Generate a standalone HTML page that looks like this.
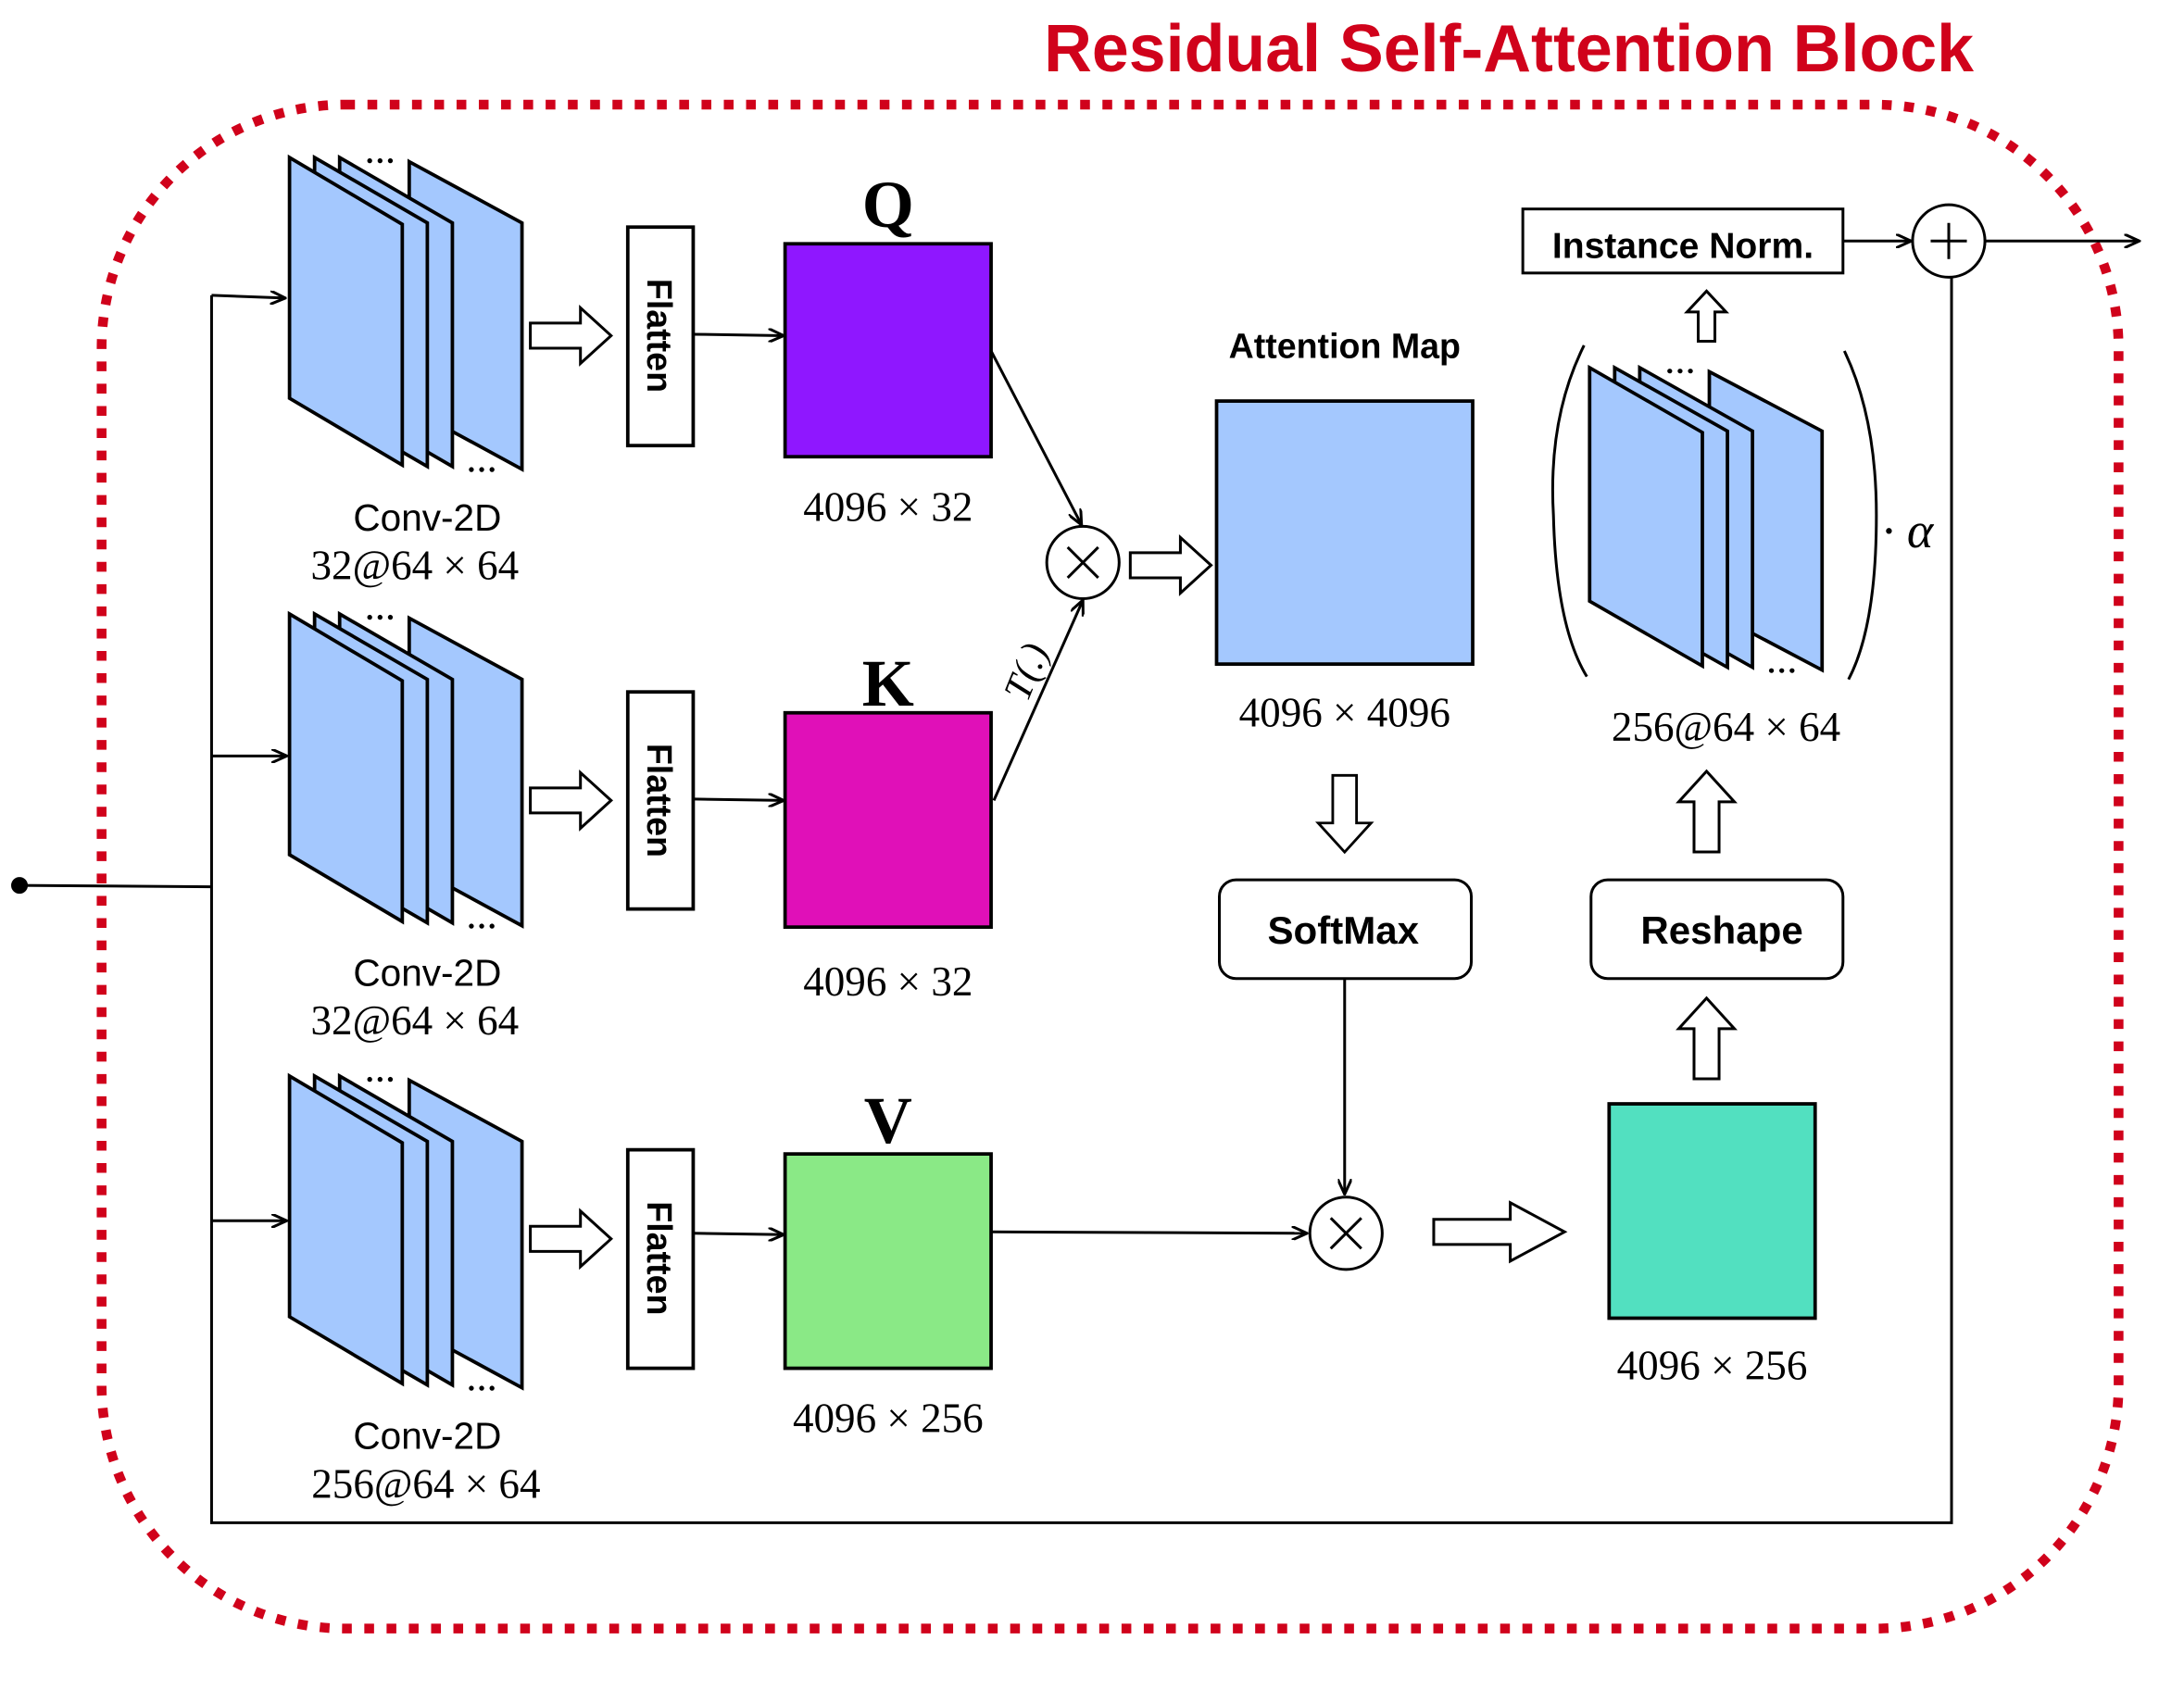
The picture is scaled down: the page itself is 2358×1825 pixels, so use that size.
<!DOCTYPE html>
<html><head><meta charset="utf-8"><style>html,body{margin:0;padding:0;background:#fff}svg{display:block}</style></head><body>
<svg width="2358" height="1825" viewBox="0 0 1569 1214" xmlns="http://www.w3.org/2000/svg">
<defs>
<marker id="a" markerWidth="12" markerHeight="10" refX="11" refY="5" orient="auto" markerUnits="userSpaceOnUse"><path d="M0,0 L11,5 L0,10" fill="none" stroke="#000" stroke-width="2"/></marker>
<g id="stack">
<polygon points="86,3 167,47 167,224 86,180" fill="#a4c8fe" stroke="#000" stroke-width="2.5"/>
<polygon points="36,0 117,47 117,222 36,175" fill="#a4c8fe" stroke="#000" stroke-width="2.5"/>
<polygon points="18,0 99,47 99,222 18,175" fill="#a4c8fe" stroke="#000" stroke-width="2.5"/>
<polygon points="0,0 81,48 81,221 0,173" fill="#a4c8fe" stroke="#000" stroke-width="2.5"/>
<text x="54" y="4" font-family="Liberation Serif,serif" font-size="22" font-weight="bold">…</text>
<text x="127" y="226" font-family="Liberation Serif,serif" font-size="22" font-weight="bold">…</text>
</g>
<path id="harr" d="M0,-9 L36,-9 L36,-20 L58,0 L36,20 L36,9 L0,9 Z" fill="#fff" stroke="#000" stroke-width="2"/>
</defs>
<rect x="73" y="75" width="1449" height="1095" rx="175" fill="none" stroke="#d0021b" stroke-width="7" stroke-dasharray="7 9"/>
<text x="1418" y="51" text-anchor="end" font-family="Liberation Sans,sans-serif" font-size="48" font-weight="bold" fill="#d0021b" textLength="668" lengthAdjust="spacingAndGlyphs">Residual Self-Attention Block</text>

<g stroke="#000" stroke-width="2" fill="none">
<circle cx="14" cy="636" r="5" fill="#000"/>
<line x1="14" y1="636" x2="152" y2="637"/>
<polyline points="152,212 152,1094 1402,1094 1402,199"/>
<line x1="152" y1="212" x2="205" y2="214" marker-end="url(#a)"/>
<line x1="152" y1="543" x2="206" y2="543" marker-end="url(#a)"/>
<line x1="152" y1="877" x2="206" y2="877" marker-end="url(#a)"/>
<line x1="498" y1="240" x2="563" y2="241" marker-end="url(#a)"/>
<line x1="498" y1="574" x2="563" y2="575" marker-end="url(#a)"/>
<line x1="498" y1="886" x2="563" y2="887" marker-end="url(#a)"/>
<line x1="712" y1="252" x2="777" y2="377" marker-end="url(#a)"/>
<line x1="714" y1="575" x2="778" y2="431" marker-end="url(#a)"/>
<line x1="712" y1="885" x2="939" y2="886" marker-end="url(#a)"/>
<line x1="966" y1="703" x2="966" y2="858" marker-end="url(#a)"/>
<line x1="1324" y1="173" x2="1373" y2="173" marker-end="url(#a)"/>
<line x1="1426" y1="173" x2="1537" y2="173" marker-end="url(#a)"/>
</g>

<use href="#stack" x="208" y="113"/>
<use href="#stack" x="208" y="441"/>
<use href="#stack" x="208" y="773"/>
<g font-family="Liberation Sans,sans-serif" font-size="27" text-anchor="middle">
<text x="307" y="381">Conv-2D</text><text x="307" y="708">Conv-2D</text><text x="307" y="1041">Conv-2D</text>
</g>
<g font-family="Liberation Serif,serif" font-size="30" text-anchor="middle">
<text x="298" y="416">32@64 × 64</text><text x="298" y="743">32@64 × 64</text><text x="306" y="1076">256@64 × 64</text>
<text x="638" y="374">4096 × 32</text><text x="638" y="715">4096 × 32</text><text x="638" y="1029">4096  × 256</text>
<text x="966" y="522">4096 × 4096</text><text x="1230" y="991">4096  × 256</text><text x="1240" y="532">256@64 × 64</text>
</g>
<use href="#harr" x="381" y="241"/><use href="#harr" x="381" y="575"/><use href="#harr" x="381" y="890"/>
<use href="#harr" x="812" y="406"/>
<path d="M1030,876 L1085,876 L1085,864 L1124,885 L1085,906 L1085,894 L1030,894 Z" fill="#fff" stroke="#000" stroke-width="2"/>
<use href="#harr" transform="translate(966,557) rotate(90) scale(0.95)"/>
<use href="#harr" transform="translate(1226,775) rotate(-90)"/>
<use href="#harr" transform="translate(1226,612) rotate(-90)"/>
<path d="M1220,245 L1220,224 L1212,224 L1226,209 L1240,224 L1232,224 L1232,245 Z" fill="#fff" stroke="#000" stroke-width="2"/>

<g stroke="#000" stroke-width="2.5" fill="#fff">
<rect x="451" y="163" width="47" height="157"/><rect x="451" y="497" width="47" height="156"/><rect x="451" y="826" width="47" height="157"/>
</g>
<g font-family="Liberation Sans,sans-serif" font-size="25" font-weight="bold" text-anchor="middle">
<text transform="translate(465,241) rotate(90)">Flatten</text>
<text transform="translate(465,575) rotate(90)">Flatten</text>
<text transform="translate(465,904) rotate(90)">Flatten</text>
</g>
<rect x="564" y="175" width="148" height="153" fill="#8f17ff" stroke="#000" stroke-width="2.5"/>
<rect x="564" y="512" width="148" height="154" fill="#e010b8" stroke="#000" stroke-width="2.5"/>
<rect x="564" y="829" width="148" height="154" fill="#8ae986" stroke="#000" stroke-width="2.5"/>
<g font-family="Liberation Serif,serif" font-size="48" font-weight="bold" text-anchor="middle">
<text x="638" y="163">Q</text><text x="638" y="507">K</text><text x="638" y="821">V</text>
</g>
<text transform="translate(738,505) rotate(-68)" font-family="Liberation Serif,serif" font-style="italic" font-size="28">T(.)</text>
<g stroke="#000" stroke-width="2" fill="#fff">
<circle cx="778" cy="404" r="26"/><circle cx="967" cy="886" r="26"/><circle cx="1400" cy="173" r="26"/>
</g>
<g stroke="#000" stroke-width="2">
<path d="M767,393 L789,415 M789,393 L767,415"/><path d="M956,875 L978,897 M978,875 L956,897"/>
<path d="M1400,160 V186 M1387,173 H1413"/>
</g>
<rect x="874" y="288" width="184" height="189" fill="#a4c8fe" stroke="#000" stroke-width="2.5"/>
<text x="966" y="257" text-anchor="middle" font-family="Liberation Sans,sans-serif" font-size="25" font-weight="bold">Attention Map</text>
<rect x="876" y="632" width="181" height="71" rx="12" fill="#fff" stroke="#000" stroke-width="2"/>
<text x="965" y="678" text-anchor="middle" font-family="Liberation Sans,sans-serif" font-size="28" font-weight="bold">SoftMax</text>
<rect x="1143" y="632" width="181" height="71" rx="12" fill="#fff" stroke="#000" stroke-width="2"/>
<text x="1237" y="678" text-anchor="middle" font-family="Liberation Sans,sans-serif" font-size="28" font-weight="bold">Reshape</text>
<rect x="1156" y="793" width="148" height="154" fill="#52e0c0" stroke="#000" stroke-width="2.5"/>
<use href="#stack" transform="translate(1142,264) scale(1,0.97)"/>
<path d="M1138,248 Q1112,300 1116,370 Q1118,450 1140,486" fill="none" stroke="#000" stroke-width="2"/>
<path d="M1325,252 Q1348,300 1348,370 Q1348,450 1328,488" fill="none" stroke="#000" stroke-width="2"/>
<text x="1352" y="393" font-family="Liberation Serif,serif" font-size="36" font-style="italic">· α</text>
<rect x="1094" y="150" width="230" height="46" fill="#fff" stroke="#000" stroke-width="2"/>
<text x="1209" y="185" text-anchor="middle" font-family="Liberation Sans,sans-serif" font-size="26" font-weight="bold">Instance Norm.</text>
</svg>
</body></html>
